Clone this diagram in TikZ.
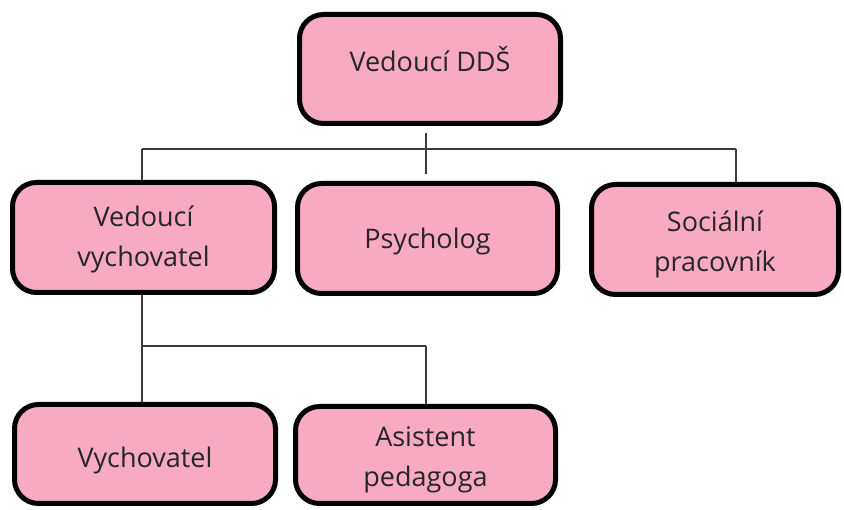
\documentclass[tikz,border=0pt]{standalone}
\usepackage{fontspec}
\setmainfont{Open Sans}
\definecolor{boxpink}{RGB}{248,170,195}
\definecolor{linegray}{RGB}{60,60,60}
\begin{document}
\begin{tikzpicture}[x=1pt,y=-1pt,
  orgbox/.style={draw=black,line width=5pt,fill=boxpink,rounded corners=24pt,
    minimum width=261pt,minimum height=109pt,inner sep=0pt},
  boxtext/.style={inner sep=0pt,align=center,
    font=\fontsize{27}{40}\selectfont,text=black!85},
  conn/.style={draw=linegray,line width=1.2pt}]
\useasboundingbox (0,0) rectangle (844,510);
\node[orgbox,label={[boxtext,yshift=10pt]center:Vedoucí DDŠ}] (top) at (430,69) {};
\node[orgbox,minimum width=262pt,minimum height=110pt,
  label={[boxtext,yshift=-2pt]center:Vedoucí\\vychovatel}] (vv) at (143.5,237.5) {};
\node[orgbox,minimum width=260pt,minimum height=110pt,
  label={[boxtext,yshift=-3pt]center:Psycholog}] (psy) at (427.5,238.5) {};
\node[orgbox,minimum width=247pt,minimum height=110pt,
  label={[boxtext,yshift=-5pt]center:Sociální\\pracovník}] (soc) at (715,239.5) {};
\node[orgbox,minimum width=261pt,minimum height=99pt,
  label={[boxtext,yshift=-6pt]center:Vychovatel}] (vych) at (145,454) {};
\node[orgbox,minimum width=260pt,minimum height=97pt,
  label={[boxtext,yshift=-5pt]center:Asistent\\pedagoga}] (asi) at (425.5,455) {};
\coordinate (hl) at (142,149);
\coordinate (hr) at (736,149);
\coordinate (ll) at (142,346);
\coordinate (lr) at (426,346);
\draw[conn] (hl) -- (hr);
\draw[conn] (426,133) -- (426,174);
\draw[conn] (hl) -- (hl |- vv.north);
\draw[conn] (hr) -- (hr |- soc.north);
\draw[conn] (ll |- vv.south) -- (ll);
\draw[conn] (ll) -- (lr);
\draw[conn] (ll) -- (ll |- vych.north);
\draw[conn] (lr) -- (lr |- asi.north);
\end{tikzpicture}
\end{document}
